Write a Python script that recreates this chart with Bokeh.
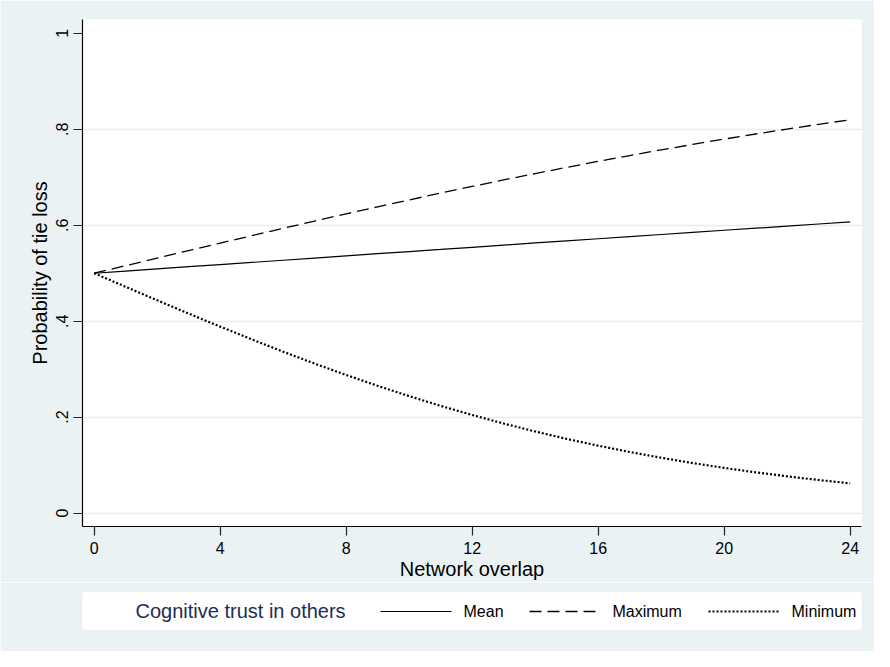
from bokeh.plotting import figure
from bokeh.models import FixedTicker, Range1d
from bokeh.layouts import column
from bokeh.embed import file_html
from bokeh.resources import INLINE
from bokeh.core.properties import value

# ---- data ----
overlap = list(range(25))
mean_trust = [0.5000, 0.5045, 0.5091, 0.5136, 0.5181, 0.5226, 0.5271, 0.5317, 0.5362, 0.5407,
              0.5452, 0.5496, 0.5541, 0.5586, 0.5631, 0.5675, 0.5719, 0.5764, 0.5808, 0.5852,
              0.5896, 0.5939, 0.5983, 0.6027, 0.6070]
max_trust = [0.5000, 0.5158, 0.5316, 0.5473, 0.5629, 0.5783, 0.5937, 0.6088, 0.6238, 0.6385,
             0.6529, 0.6671, 0.6810, 0.6946, 0.7078, 0.7207, 0.7333, 0.7454, 0.7572, 0.7686,
             0.7797, 0.7903, 0.8006, 0.8105, 0.8200]
min_trust = [0.5000, 0.4717, 0.4436, 0.4159, 0.3887, 0.3622, 0.3364, 0.3116, 0.2879, 0.2653,
             0.2438, 0.2235, 0.2045, 0.1867, 0.1701, 0.1547, 0.1405, 0.1274, 0.1153, 0.1043,
             0.0942, 0.0849, 0.0765, 0.0689, 0.0620]
x_ticks = [0, 4, 8, 12, 16, 20, 24]
y_ticks = [0, 0.2, 0.4, 0.6, 0.8, 1]
y_tick_labels = ["0", ".2", ".4", ".6", ".8", "1"]
series_names = ["Mean", "Maximum", "Minimum"]
legend_title = "Cognitive trust in others"
x_title = "Network overlap"
y_title = "Probability of tie loss"

# ---- style ----
BG = "#EAF2F3"
GRID = "#E4EDEF"
NAVY = "#1C2D55"
FONT = "Liberation Sans"
styles = [
    dict(line_color="black", line_width=1.2, line_dash="solid"),
    dict(line_color="black", line_width=1.3, line_dash="12 6"),
    dict(line_color="black", line_width=2.2, line_dash="2 2"),
]

p = figure(width=874, height=582, output_backend="svg", toolbar_location=None,
           x_range=Range1d(-0.37, 24.36), y_range=Range1d(-0.028, 1.029),
           min_border_left=75, min_border_right=5, min_border_top=19, min_border_bottom=54,
           background_fill_color="white", border_fill_color=BG, outline_line_color=None)

for ys, st in zip([mean_trust, max_trust, min_trust], styles):
    p.line(overlap, ys, **st)

# x axis
xa = p.xaxis[0]
xa.ticker = FixedTicker(ticks=x_ticks)
xa.axis_label = x_title
xa.axis_label_text_font = FONT
xa.axis_label_text_font_size = "20px"
xa.axis_label_text_font_style = "normal"
xa.axis_label_text_color = "black"
xa.axis_label_standoff = 1
xa.major_label_text_font = FONT
xa.major_label_text_font_size = "16px"
xa.major_label_text_color = "black"
xa.major_label_standoff = 6
xa.major_tick_out = 9
xa.major_tick_in = 0
xa.minor_tick_line_color = None
xa.axis_line_color = "black"
xa.axis_line_width = 1.2
xa.major_tick_line_color = "#222222"
xa.major_tick_line_width = 1.2

# y axis
ya = p.yaxis[0]
ya.ticker = FixedTicker(ticks=y_ticks)
ya.major_label_overrides = dict(zip(y_ticks, y_tick_labels))
ya.major_label_orientation = "vertical"
ya.axis_label = y_title
ya.axis_label_text_font = FONT
ya.axis_label_text_font_size = "20px"
ya.axis_label_text_font_style = "normal"
ya.axis_label_text_color = "black"
ya.axis_label_standoff = 3
ya.major_label_text_font = FONT
ya.major_label_text_font_size = "16px"
ya.major_label_text_color = "black"
ya.major_label_standoff = 5
ya.major_tick_out = 9
ya.major_tick_in = 0
ya.minor_tick_line_color = None
ya.axis_line_color = "black"
ya.axis_line_width = 1.2
ya.major_tick_line_color = "#222222"
ya.major_tick_line_width = 1.2

p.xgrid.visible = False
p.ygrid.ticker = FixedTicker(ticks=y_ticks[:-1])
p.ygrid.grid_line_color = GRID
p.ygrid.grid_line_width = 1.5

# ---- legend strip (white box below the plot) ----
box_w, box_h = 779, 37
leg = figure(width=874, height=69, output_backend="svg", toolbar_location=None,
             x_range=Range1d(0, box_w), y_range=Range1d(0, box_h),
             x_axis_type=None, y_axis_type=None,
             min_border_left=82, min_border_right=13, min_border_top=10, min_border_bottom=22,
             background_fill_color="white", border_fill_color=BG, outline_line_color=None)

mid = box_h / 2
leg.text(x=[53], y=[mid], text=[legend_title], text_font=value(FONT),
         text_font_size="20px", text_color=NAVY, text_baseline="middle", text_align="left")

starts = [298, 447, 626]
sample_len = 71
gap = 12
for name, st, s in zip(series_names, styles, starts):
    leg.line([s, s + sample_len], [mid - 0.5, mid - 0.5], **st)
    leg.text(x=[s + sample_len + gap], y=[mid], text=[name], text_font=value(FONT),
             text_font_size="16px", text_color="black", text_baseline="middle",
             text_align="left")

layout = column(p, leg, spacing=0)
open("out.html", "w").write(file_html(layout, INLINE))
